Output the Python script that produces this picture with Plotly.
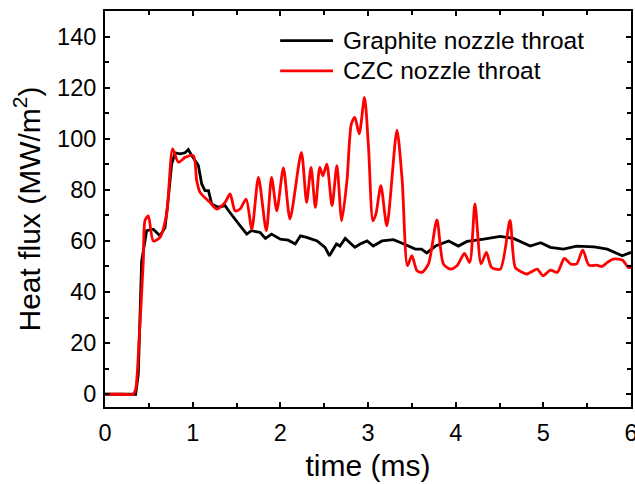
import plotly.graph_objects as go

# Graphite nozzle throat (black)
t_graphite = [0, 0.35, 0.38, 0.418, 0.475, 0.551, 0.627, 0.685, 0.72, 0.76, 0.799, 0.856, 0.913, 0.95,
              0.99, 1.065, 1.103, 1.14, 1.18, 1.217, 1.29, 1.37, 1.41, 1.465, 1.54, 1.617, 1.67, 1.77,
              1.83, 1.90, 2.0, 2.09, 2.17, 2.23, 2.30, 2.42, 2.51, 2.56, 2.64, 2.68, 2.74, 2.85, 2.91,
              2.99, 3.06, 3.16, 3.29, 3.41, 3.54, 3.61, 3.67, 3.77, 3.92, 4.03, 4.13, 4.32, 4.51, 4.66,
              4.85, 4.97, 5.08, 5.23, 5.38, 5.58, 5.73, 5.90, 6.0]
q_graphite = [0, 0, 8, 52, 64, 64.6, 62, 65.2, 76, 90, 94.5, 94.1, 94.5, 95.8,
              93.4, 89.5, 82.3, 79.7, 79.7, 74.5, 73.2, 73.8, 71.8, 69.2, 66, 62.7, 64, 63.3,
              61, 62.7, 60.7, 60.3, 58.8, 62, 61.4, 60, 57.5, 54.2, 58.8, 58, 61, 57.5, 58.8,
              60, 58, 60, 60.5, 58.8, 56.8, 56.8, 55.3, 58, 60, 58, 59.8, 60.7, 61.8, 61,
              58, 59.3, 57.5, 56.8, 58, 57.7, 56.8, 54.2, 55.5]

# CZC nozzle throat (red)
t_czc = [0, 0.2, 0.32, 0.35, 0.39, 0.437, 0.456, 0.494, 0.551, 0.627, 0.703, 0.772, 0.837, 0.913, 1.008, 1.046,
         1.084, 1.198, 1.274, 1.37, 1.427, 1.484, 1.54, 1.61, 1.675, 1.75, 1.84, 1.90, 1.96, 2.035,
         2.11, 2.24, 2.30, 2.35, 2.40, 2.45, 2.485, 2.53, 2.59, 2.645, 2.70, 2.76, 2.81, 2.85, 2.90,
         2.96, 3.006, 3.056, 3.09, 3.147, 3.215, 3.33, 3.39, 3.45, 3.50, 3.56, 3.615, 3.69, 3.786,
         3.86, 3.94, 4.015, 4.10, 4.16, 4.22, 4.29, 4.35, 4.41, 4.51, 4.62, 4.68, 4.76, 4.81, 4.93,
         4.995, 5.08, 5.16, 5.24, 5.31, 5.38, 5.45, 5.52, 5.61, 5.67, 5.73, 5.80, 5.90, 5.97, 6.0]
q_czc = [0, 0, 0, 2, 22, 52.2, 67.9, 69.8, 60, 61.4, 70.5, 96, 90.8, 92.7, 93.4, 83.6,
         79, 75.1, 72.5, 75.1, 78.4, 71.8, 72.5, 76.4, 64.6, 84.9, 64, 84.9, 71.8, 88.6,
         68.6, 94.7, 75.1, 88.8, 73.1, 88.8, 85.5, 90.1, 73.8, 89.5, 67.9, 83.6, 105.8, 108.4, 101.9,
         116.2, 96.6, 67.9, 70.5, 81.6, 65.9, 103.4, 83.6, 50.3, 54.2, 48.3, 47.7, 51, 68.2,
         51, 49, 50.3, 55.1, 51.6, 74.5, 51, 55.5, 49.6, 49, 68, 49.6, 47.7, 47, 49,
         46.4, 48.6, 47.7, 53.2, 51, 51, 56.4, 50.5, 50.5, 50, 51.6, 52.9, 52.5, 49.6, 49.6]

series_names = ["Graphite nozzle throat", "CZC nozzle throat"]
series_colors = ["#000000", "#ff0000"]

x_ticks = [0, 1, 2, 3, 4, 5, 6]
y_ticks = [0, 20, 40, 60, 80, 100, 120, 140]

FONT = "Liberation Sans, Arial, sans-serif"

fig = go.Figure()
fig.add_trace(go.Scatter(x=t_graphite, y=q_graphite, mode="lines", name=series_names[0],
                         line=dict(color=series_colors[0], width=2.8), showlegend=False))
fig.add_trace(go.Scatter(x=t_czc, y=q_czc, mode="lines", name=series_names[1],
                         line=dict(color=series_colors[1], width=2.8, shape="spline", smoothing=0.7),
                         showlegend=False))

# manual legend (paper coordinates)
leg_rows = [0.925, 0.849]
for name, color, yy in zip(series_names, series_colors, leg_rows):
    fig.add_shape(type="line", xref="paper", yref="paper", x0=0.333, x1=0.4335, y0=yy, y1=yy,
                  line=dict(color=color, width=2.8))
    fig.add_annotation(xref="paper", yref="paper", x=0.449, y=yy, text=name, showarrow=False,
                       xanchor="left", yanchor="middle", font=dict(family=FONT, size=24.5, color="black"))

axis_common = dict(showline=True, linecolor="black", linewidth=2, mirror="ticks", ticks="inside",
                   ticklen=5, tickwidth=1.5, tickcolor="black", showgrid=False, zeroline=False,
                   automargin=False, ticklabeloverflow="allow",
                   tickfont=dict(family=FONT, size=23.5, color="black"))

fig.update_xaxes(range=[0, 6], tickvals=x_ticks, ticktext=[str(v) for v in x_ticks],
                 minor=dict(ticks="inside", ticklen=4, tickwidth=1.5, tickcolor="black", dtick=0.5),
                 ticklabelstandoff=4,
                 title=dict(text="time (ms)", font=dict(family=FONT, size=30, color="black"), standoff=10),
                 **axis_common)
fig.update_yaxes(range=[-5, 150], tickvals=y_ticks, ticktext=[str(v) for v in y_ticks],
                 minor=dict(ticks="inside", ticklen=4, tickwidth=1.5, tickcolor="black", dtick=10),
                 ticklabelstandoff=2,
                 title=dict(text="Heat flux (MW/m<sup>2</sup>)", font=dict(family=FONT, size=30, color="black"),
                            standoff=8),
                 **axis_common)

fig.update_layout(width=635, height=484, margin=dict(l=105, r=4, t=11, b=77),
                  plot_bgcolor="white", paper_bgcolor="white", font=dict(family=FONT))

fig.write_html("out.html", config={"displayModeBar": False},
               post_script="document.body.style.margin='0';document.body.style.overflow='hidden';")
